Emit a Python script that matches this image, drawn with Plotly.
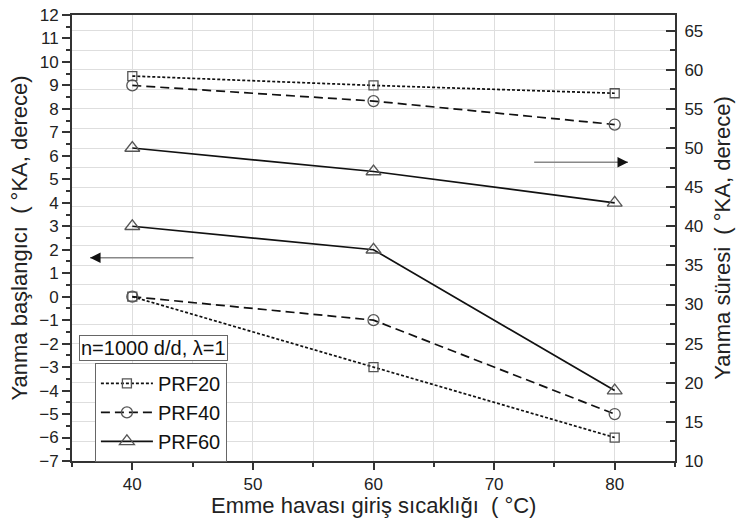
import plotly.graph_objects as go

# Intake air temperature (°C)
temps = [40, 60, 80]

# Start of combustion (°CA) – left axis
soc_prf20 = [0, -3, -6]
soc_prf40 = [0, -1, -5]
soc_prf60 = [3, 2, -4]

# Combustion duration (°CA) – right axis
dur_prf20 = [59.2, 58, 57]
dur_prf40 = [58, 56, 53]
dur_prf60 = [50, 47, 43]

series = [
    ("PRF20", soc_prf20, dur_prf20, "3px,2px", "square-open", 9),
    ("PRF40", soc_prf40, dur_prf40, "9px,5px", "circle-open", 11),
    ("PRF60", soc_prf60, dur_prf60, "solid", "triangle-up-open", 13),
]

FONT = "Liberation Sans, Arial, sans-serif"
AX = "#333333"
GRID = "#dedede"

fig = go.Figure()
for name, soc, dur, dash, sym, size in series:
    mk = dict(symbol=sym, size=size, color="#555555", line=dict(width=1.3, color="#555555"))
    ln = dict(color="#111111", width=1.7, dash=dash)
    fig.add_trace(go.Scatter(x=temps, y=soc, name=name, mode="lines+markers",
                             line=ln, marker=mk, yaxis="y", showlegend=True))
    fig.add_trace(go.Scatter(x=temps, y=dur, name=name, mode="lines+markers",
                             line=ln, marker=mk, yaxis="y2", showlegend=False))

fig.update_layout(
    width=738, height=527,
    margin=dict(l=72, r=63, t=15, b=66),
    paper_bgcolor="white", plot_bgcolor="white",
    font=dict(family=FONT, size=17, color="#222222"),
    xaxis=dict(
        range=[35, 85], dtick=10, tick0=40, ticks="outside", ticklen=7, tickwidth=1.5,
        tickcolor=AX, showline=True, linecolor=AX, linewidth=2, mirror=True,
        showgrid=True, gridcolor=GRID, gridwidth=1, zeroline=False, automargin=False,
        minor=dict(dtick=5, tick0=35, ticks="outside", ticklen=4, tickcolor=AX,
                   showgrid=True, gridcolor=GRID),
    ),
    yaxis=dict(
        range=[-7, 12], dtick=1, ticks="outside", ticklen=8, tickwidth=1.5, tickcolor=AX,
        showline=True, linecolor=AX, linewidth=2, showgrid=False, zeroline=False,
        automargin=False,
        minor=dict(dtick=0.5, ticks="outside", ticklen=4, tickcolor=AX),
        title=dict(text="Yanma başlangıcı  ( °KA, derece)", font=dict(size=22), standoff=6),
    ),
    yaxis2=dict(
        range=[10, 67], dtick=5, tick0=10, overlaying="y", side="right",
        ticks="inside", ticklen=9, tickwidth=1.5, tickcolor=AX, ticklabelstandoff=4,
        showline=True, linecolor=AX, linewidth=2, zeroline=False, automargin=False,
        showgrid=True, gridcolor=GRID, gridwidth=1,
        minor=dict(dtick=2.5, tick0=10, ticks="inside", ticklen=5, tickcolor=AX,
                   showgrid=True, gridcolor=GRID),
        title=dict(text="Yanma süresi  ( °KA, derece)", font=dict(size=22), standoff=12),
    ),
    legend=dict(
        x=0.038, y=0.22, xanchor="left", yanchor="top",
        bordercolor="#666666", borderwidth=1, bgcolor="white",
        font=dict(size=20, color="#111111"), tracegroupgap=0, itemwidth=52,
    ),
    showlegend=True,
)

# x-axis title
fig.add_annotation(
    xref="paper", yref="paper", x=0.5, y=0, yshift=-44, xanchor="center", yanchor="middle",
    text="Emme havası giriş sıcaklığı  ( °C)", showarrow=False,
    font=dict(size=22, color="#222222"),
)

# Condition label box
fig.add_annotation(
    xref="paper", yref="paper", x=0.012, y=0.253, xanchor="left", yanchor="middle",
    text="n=1000 d/d, λ=1", showarrow=False, font=dict(size=20, color="#111111"),
    bordercolor="#666666", borderwidth=1, borderpad=1, bgcolor="white",
)

# Arrows pointing to the axis each group belongs to: grey shaft, black head
for tip, tail, yv in [(36.5, 45.2, 1.66), (81.1, 73.2, 5.73)]:
    fig.add_annotation(
        xref="x", yref="y", axref="x", ayref="y",
        x=tip, y=yv, ax=tail, ay=yv, text="", showarrow=True,
        arrowhead=0, arrowwidth=1.5, arrowcolor="#888888",
    )
    step = 0.9 if tip > tail else -0.9
    fig.add_annotation(
        xref="x", yref="y", axref="x", ayref="y",
        x=tip, y=yv, ax=tip - step, ay=yv, text="", showarrow=True,
        arrowhead=2, arrowsize=1.4, arrowwidth=1.5, arrowcolor="#111111",
    )

fig.write_html("out.html")
